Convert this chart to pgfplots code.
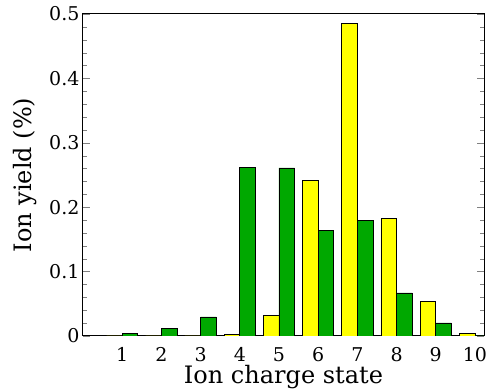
\documentclass[border=0pt]{standalone}
\usepackage{fontspec}
\setmainfont{DejaVu Serif}
\usepackage{pgfplots}
\pgfplotsset{compat=1.18}
\definecolor{bargreen}{RGB}{0,168,0}
\definecolor{baryellow}{RGB}{255,255,0}
\begin{document}
\begin{tikzpicture}
\begin{axis}[
 scale only axis, width=401pt, height=322pt,
 xmin=0, xmax=10.23, ymin=0, ymax=0.5,
 xtick={1,2,3,4,5,6,7,8,9,10}, x tick style={draw=none},
 ytick={0,0.1,0.2,0.3,0.4,0.5}, minor y tick num=4,
 major tick length=7pt, minor tick length=4pt,
 tick align=inside,
 axis line style={line width=1pt},
 ticklabel style={font=\fontsize{19}{19}\selectfont},
 xticklabel style={yshift=-1pt},
 /pgf/number format/assume math mode=true,
 xlabel={Ion charge state}, ylabel={Ion yield (\%)},
 label style={font=\fontsize{24}{24}\selectfont},
 xlabel style={yshift=4pt},
 ylabel style={yshift=6pt},
 ybar, bar width=0.4,
]
\addplot[fill=baryellow, draw=black, line width=0.8pt, bar shift=-0.2] coordinates {
(1,0) (2,0) (3,0) (4,0.002) (5,0.0317) (6,0.241) (7,0.485) (8,0.1826) (9,0.0535) (10,0.0037)};
\addplot[fill=bargreen, draw=black, line width=0.8pt, bar shift=0.2] coordinates {
(1,0.0037) (2,0.0115) (3,0.0296) (4,0.262) (5,0.261) (6,0.164) (7,0.180) (8,0.0669) (9,0.0202) (10,0)};
\end{axis}
\pgfresetboundingbox
\path[use as bounding box] ([xshift=-83pt,yshift=-54pt]current axis.south west) rectangle ([xshift=5pt,yshift=14pt]current axis.north east);
\end{tikzpicture}
\end{document}
